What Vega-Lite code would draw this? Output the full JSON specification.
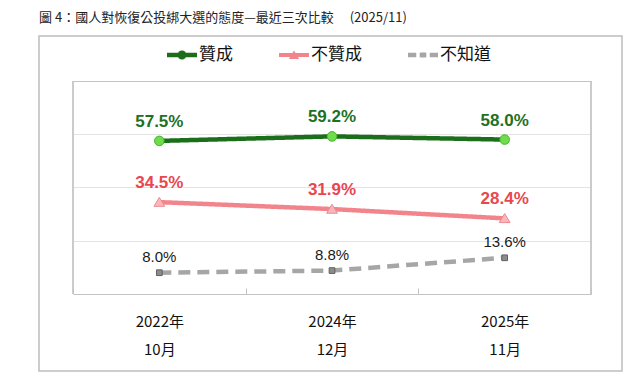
{
  "$schema": "https://vega.github.io/schema/vega-lite/v6.json",
  "width": 583,
  "height": 335,
  "autosize": "none",
  "padding": {"left": 39, "top": 36, "right": 18, "bottom": 4},
  "background": "white",
  "title": {
    "text": "圖 4：國人對恢復公投綁大選的態度—最近三次比較　 (2025/11)",
    "anchor": "start",
    "frame": "group",
    "offset": 11,
    "font": "Noto Sans CJK TC",
    "fontSize": 13,
    "fontWeight": "normal",
    "color": "#222222"
  },
  "data": {
    "values": [
      {"period": "2022年10月", "series": "贊成", "value": 0.575},
      {"period": "2022年10月", "series": "不贊成", "value": 0.345},
      {"period": "2022年10月", "series": "不知道", "value": 0.080},
      {"period": "2024年12月", "series": "贊成", "value": 0.592},
      {"period": "2024年12月", "series": "不贊成", "value": 0.319},
      {"period": "2024年12月", "series": "不知道", "value": 0.088},
      {"period": "2025年11月", "series": "贊成", "value": 0.580},
      {"period": "2025年11月", "series": "不贊成", "value": 0.284},
      {"period": "2025年11月", "series": "不知道", "value": 0.136}
    ]
  },
  "config": {
    "font": "Liberation Sans",
    "view": {"stroke": "#bdbdbd", "strokeWidth": 1.5}
  },
  "encoding": {
    "x": {
      "field": "period",
      "type": "nominal",
      "title": null,
      "scale": {
        "type": "band",
        "domain": ["2022年10月", "2024年12月", "2025年11月"],
        "paddingInner": 0,
        "paddingOuter": 0.1882,
        "align": 0.523
      },
      "axis": {
        "orient": "bottom",
        "offset": -77,
        "domain": false,
        "grid": false,
        "tickBand": "extent",
        "tickSize": -6,
        "tickColor": "#c4c4c4",
        "tickWidth": 1,
        "labelExpr": "[slice(datum.label, 0, 5), slice(datum.label, 5)]",
        "labelFont": "Noto Sans CJK TC",
        "labelFontSize": 15,
        "labelColor": "#111111",
        "labelLineHeight": 28,
        "labelPadding": 26,
        "labelAngle": 0
      }
    },
    "y": {
      "field": "value",
      "type": "quantitative",
      "title": null,
      "scale": {"domain": [-0.2892, 0.969], "nice": false, "zero": false},
      "axis": {
        "orient": "left",
        "offset": -34,
        "values": [0, 0.2, 0.4, 0.6, 0.8],
        "labels": false,
        "domain": false,
        "grid": false,
        "ticks": true,
        "tickSize": -518,
        "tickWidth": 1,
        "tickColor": {
          "condition": {"test": "datum.value === 0 || datum.value === 0.8", "value": "#c4c4c4"},
          "value": "#e3e3e3"
        }
      }
    }
  },
  "layer": [
    {
      "transform": [{"filter": "datum.period === '2022年10月'"}],
      "mark": {"type": "rule", "color": "#c4c4c4", "strokeWidth": 1},
      "encoding": {
        "x": {"field": "period", "type": "nominal", "bandPosition": 0, "title": null},
        "y": {"datum": 0, "type": "quantitative"},
        "y2": {"datum": 0.8}
      }
    },
    {
      "transform": [{"filter": "datum.period === '2025年11月'"}],
      "mark": {"type": "rule", "color": "#c4c4c4", "strokeWidth": 1},
      "encoding": {
        "x": {"field": "period", "type": "nominal", "bandPosition": 1, "title": null},
        "y": {"datum": 0, "type": "quantitative"},
        "y2": {"datum": 0.8}
      }
    },
    {
      "mark": {"type": "line", "strokeWidth": 4.5},
      "encoding": {
        "color": {
          "field": "series",
          "type": "nominal",
          "scale": {
            "domain": ["贊成", "不贊成", "不知道"],
            "range": ["#1b6f1b", "#f2858c", "#a6a6a6"]
          },
          "legend": null
        },
        "strokeDash": {
          "field": "series",
          "type": "nominal",
          "scale": {
            "domain": ["贊成", "不贊成", "不知道"],
            "range": [[1, 0], [1, 0], [12, 7]]
          },
          "legend": null
        }
      }
    },
    {
      "mark": {"type": "point", "filled": true, "size": 900, "opacity": 1, "strokeWidth": 1},
      "encoding": {
        "shape": {
          "condition": [
            {"test": "datum.series === '贊成'", "value": "M0.32,0A0.32,0.32,0,1,1,-0.32,0A0.32,0.32,0,1,1,0.32,0Z"},
            {"test": "datum.series === '不贊成'", "value": "M0,-0.32L0.36,0.28L-0.36,0.28Z"}
          ],
          "value": "M-0.19,-0.19L0.19,-0.19L0.19,0.19L-0.19,0.19Z"
        },
        "fill": {
          "condition": [
            {"test": "datum.series === '贊成'", "value": "#6fdc4b"},
            {"test": "datum.series === '不贊成'", "value": "#f7b8bc"}
          ],
          "value": "#8c8c8c"
        },
        "stroke": {
          "condition": [
            {"test": "datum.series === '贊成'", "value": "#45b52f"},
            {"test": "datum.series === '不贊成'", "value": "#ee8a90"}
          ],
          "value": "#606060"
        }
      }
    },
    {
      "mark": {"type": "point", "filled": true, "size": 900, "opacity": 0},
      "encoding": {
        "fill": {
          "field": "series",
          "type": "nominal",
          "sort": "descending",
          "scale": {"range": ["#1b6f1b", "#f2858c", "#a6a6a6"]},
          "legend": {
            "orient": "none",
            "legendX": 128,
            "legendY": 4,
            "direction": "horizontal",
            "title": null,
            "padding": 0,
            "symbolSize": 900,
            "symbolOpacity": 1,
            "symbolStrokeWidth": 0,
            "labelFont": "Noto Sans CJK TC",
            "labelFontSize": 17,
            "labelColor": "#111111",
            "labelOffset": 2,
            "columnPadding": 46
          }
        },
        "shape": {
          "field": "series",
          "type": "nominal",
          "sort": "descending",
          "scale": {
            "range": [
              "M-1,-0.15L1,-0.15L1,0.15L-1,0.15Z M0.3,0A0.3,0.3,0,1,1,-0.3,0A0.3,0.3,0,1,1,0.3,0Z",
              "M-1,-0.14L1,-0.14L1,0.14L-1,0.14Z M0,-0.3L0.34,0.26L-0.34,0.26Z",
              "M-1,-0.15L-0.45,-0.15L-0.45,0.15L-1,0.15Z M-0.22,-0.15L0.22,-0.15L0.22,0.15L-0.22,0.15Z M0.45,-0.15L1,-0.15L1,0.15L0.45,0.15Z M-0.17,-0.17L0.17,-0.17L0.17,0.17L-0.17,0.17Z"
            ]
          },
          "legend": {
            "orient": "none",
            "legendX": 128,
            "legendY": 4,
            "direction": "horizontal",
            "title": null,
            "padding": 0,
            "symbolSize": 900,
            "symbolOpacity": 1,
            "symbolStrokeWidth": 0,
            "labelFont": "Noto Sans CJK TC",
            "labelFontSize": 17,
            "labelColor": "#111111",
            "labelOffset": 2,
            "columnPadding": 46
          }
        }
      }
    },
    {
      "transform": [{"filter": "datum.series !== '不知道'"}],
      "mark": {
        "type": "text",
        "font": "Liberation Sans",
        "fontSize": 17,
        "fontWeight": "bold",
        "baseline": "middle",
        "dy": -19
      },
      "encoding": {
        "text": {"field": "value", "type": "quantitative", "format": ".1%"},
        "color": {
          "condition": {"test": "datum.series === '贊成'", "value": "#1f701f"},
          "value": "#e8474f"
        }
      }
    },
    {
      "transform": [{"filter": "datum.series === '不知道'"}],
      "mark": {
        "type": "text",
        "font": "Liberation Sans",
        "fontSize": 15,
        "fontWeight": "normal",
        "baseline": "middle",
        "dy": -16,
        "color": "#1a1a1a"
      },
      "encoding": {
        "text": {"field": "value", "type": "quantitative", "format": ".1%"}
      }
    }
  ]
}
